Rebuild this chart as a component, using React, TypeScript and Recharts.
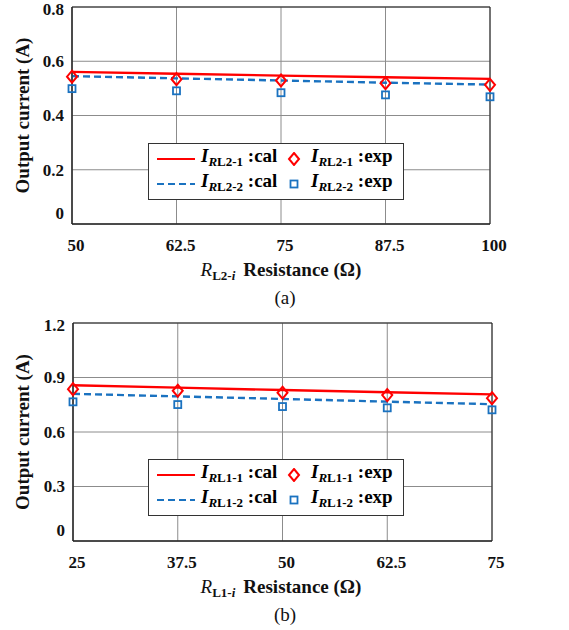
import React from "react";
import {
  CartesianGrid,
  ComposedChart,
  Legend,
  Line,
  ReferenceArea,
  XAxis,
  YAxis,
} from "recharts";

const resistanceA = [50, 62.5, 75, 87.5, 100];
const calA1 = [0.561, 0.554, 0.547, 0.541, 0.535];
const calA2 = [0.545, 0.537, 0.529, 0.521, 0.514];
const expA1 = [0.543, 0.534, 0.529, 0.519, 0.513];
const expA2 = [0.499, 0.491, 0.484, 0.476, 0.469];
const yTicksA = [0, 0.2, 0.4, 0.6, 0.8];

const resistanceB = [25, 37.5, 50, 62.5, 75];
const calB1 = [0.857, 0.844, 0.831, 0.819, 0.807];
const calB2 = [0.81, 0.796, 0.782, 0.767, 0.753];
const expB1 = [0.836, 0.827, 0.816, 0.803, 0.786];
const expB2 = [0.766, 0.751, 0.74, 0.733, 0.722];
const yTicksB = [0, 0.3, 0.6, 0.9, 1.2];

const RED = "#ff0000";
const BLUE = "#1a72c0";
const FONT = "Liberation Serif";

const Diamond = ({ cx, cy }: { cx: number; cy: number }) => (
  <path
    d={`M${cx},${cy - 6} L${cx + 5},${cy} L${cx},${cy + 6} L${cx - 5},${cy} Z`}
    fill="none"
    stroke={RED}
    strokeWidth={2}
  />
);

const Square = ({ cx, cy }: { cx: number; cy: number }) => (
  <rect x={cx - 3.5} y={cy - 3.5} width={7} height={7} fill="none" stroke={BLUE} strokeWidth={1.8} />
);

function Name({ sub }: { sub: string }) {
  return (
    <span style={{ fontWeight: "bold" }}>
      <i>I</i>
      <sub style={{ fontSize: 13, verticalAlign: -4 }}>
        <i>R</i>
        {sub}
      </sub>
    </span>
  );
}

function LegendBox({ s1, s2 }: { s1: string; s2: string }) {
  const row = (sub: string, line: React.ReactNode, marker: React.ReactNode) => (
    <div style={{ display: "flex", alignItems: "center", height: 25 }}>
      <svg width={40} height={10} style={{ marginLeft: 8 }}>{line}</svg>
      <span style={{ marginLeft: 4, width: 86 }}>
        <Name sub={sub} /> <b>:cal</b>
      </span>
      <svg width={14} height={14}>{marker}</svg>
      <span style={{ marginLeft: 10 }}>
        <Name sub={sub} /> <b>:exp</b>
      </span>
    </div>
  );
  return (
    <div
      style={{
        width: 254,
        height: 53,
        border: "1px solid #333",
        background: "#fff",
        fontFamily: FONT,
        fontSize: 19,
        lineHeight: "20px",
        paddingTop: 2,
        boxSizing: "content-box",
      }}
    >
      {row(s1, <line x1={0} y1={5} x2={38} y2={5} stroke={RED} strokeWidth={2.2} />, <Diamond cx={7} cy={7} />)}
      {row(
        s2,
        <line x1={0} y1={5} x2={38} y2={5} stroke={BLUE} strokeWidth={2.2} strokeDasharray="7 4" />,
        <Square cx={7} cy={7} />
      )}
    </div>
  );
}

type PanelProps = {
  xs: number[];
  cal1: number[];
  cal2: number[];
  exp1: number[];
  exp2: number[];
  yTicks: number[];
  s1: string;
  s2: string;
  yAxisWidth: number;
  rightMargin: number;
  xAxisHeight: number;
};

function Panel(p: PanelProps) {
  const data = p.xs.map((x, i) => ({
    x,
    cal1: p.cal1[i],
    cal2: p.cal2[i],
    exp1: p.exp1[i],
    exp2: p.exp2[i],
  }));
  const yMax = p.yTicks[p.yTicks.length - 1];
  const xMin = p.xs[0];
  const xMax = p.xs[p.xs.length - 1];

  const xTick = (t: any) => (
    <text
      x={t.x + 4}
      y={t.y + 21}
      dy="0.35em"
      textAnchor="middle"
      style={{ fontFamily: FONT, fontWeight: "bold", fontSize: 17 }}
      fill="#111"
    >
      {t.payload.value}
    </text>
  );
  const yTick = (t: any) => (
    <text
      x={t.x - 8}
      y={t.y + (t.payload.value === 0 ? -11 : 0)}
      dy="0.35em"
      textAnchor="end"
      style={{ fontFamily: FONT, fontWeight: "bold", fontSize: 17 }}
      fill="#111"
    >
      {t.payload.value}
    </text>
  );
  const yLabel = (l: any) => {
    const vb = l.viewBox;
    const cy = vb.y + vb.height / 2;
    return (
      <text
        x={22}
        y={cy}
        transform={`rotate(-90, 22, ${cy})`}
        textAnchor="middle"
        dominantBaseline="central"
        style={{ fontFamily: FONT, fontWeight: "bold", fontSize: 19 }}
        fill="#111"
      >
        Output current (A)
      </text>
    );
  };

  return (
    <ComposedChart
      width={569}
      height={305}
      data={data}
      margin={{ top: 7, right: p.rightMargin, bottom: 0, left: 0 }}
    >
      <CartesianGrid stroke="#8c8c8c" strokeWidth={1} />
      <XAxis
        dataKey="x"
        type="number"
        domain={[xMin, xMax]}
        ticks={p.xs}
        tick={xTick}
        tickLine={false}
        tickSize={0}
        tickMargin={0}
        axisLine={{ stroke: "#222" }}
        height={p.xAxisHeight}
      />
      <YAxis
        type="number"
        domain={[0, yMax]}
        ticks={p.yTicks}
        tick={yTick}
        tickLine={false}
        tickSize={0}
        tickMargin={0}
        axisLine={{ stroke: "#222" }}
        width={p.yAxisWidth}
        label={{ content: yLabel }}
      />
      <ReferenceArea x1={xMin} x2={xMax} y1={0} y2={yMax} fill="none" stroke="#222" strokeOpacity={1} />
      <Line dataKey="cal1" stroke={RED} strokeWidth={2.4} dot={false} activeDot={false} isAnimationActive={false} />
      <Line
        dataKey="cal2"
        stroke={BLUE}
        strokeWidth={2.4}
        strokeDasharray="7 4"
        dot={false}
        activeDot={false}
        isAnimationActive={false}
      />
      <Line
        dataKey="exp1"
        stroke="none"
        dot={(d: any) => <Diamond key={`d${d.index}`} cx={d.cx} cy={d.cy} />}
        activeDot={false}
        isAnimationActive={false}
      />
      <Line
        dataKey="exp2"
        stroke="none"
        dot={(d: any) => <Square key={`s${d.index}`} cx={d.cx} cy={d.cy} />}
        activeDot={false}
        isAnimationActive={false}
      />
      <Legend
        layout="horizontal"
        verticalAlign="middle"
        align="center"
        wrapperStyle={{ left: 148, top: 143, width: 256, height: 56 }}
        content={() => <LegendBox s1={p.s1} s2={p.s2} />}
      />
    </ComposedChart>
  );
}

function AxisTitle({ sub, top, caption }: { sub: string; top: number; caption: string }) {
  const base: React.CSSProperties = {
    position: "absolute",
    left: 0,
    textAlign: "center",
    fontFamily: FONT,
    fontSize: 19,
    lineHeight: "24px",
    color: "#111",
  };
  return (
    <>
      <div style={{ ...base, width: 562, top: top - 12 }}>
        <i>R</i>
        <sub style={{ fontSize: 13, fontWeight: "bold", verticalAlign: -4 }}>
          {sub}
          <i>i</i>
        </sub>
        <b style={{ marginLeft: 8 }}>Resistance (Ω)</b>
      </div>
      <div style={{ ...base, width: 570, top: top + 16 }}>{caption}</div>
    </>
  );
}

export default function App() {
  return (
    <div style={{ position: "absolute", left: 0, top: 0, width: 569, height: 630, background: "#fff" }}>
      <div style={{ position: "absolute", left: 0, top: 0 }}>
        <Panel
          xs={resistanceA}
          cal1={calA1}
          cal2={calA2}
          exp1={expA1}
          exp2={expA2}
          yTicks={yTicksA}
          s1="L2-1"
          s2="L2-2"
          yAxisWidth={72}
          rightMargin={79}
          xAxisHeight={81}
        />
      </div>
      <AxisTitle sub="L2-" top={270} caption="(a)" />
      <div style={{ position: "absolute", left: 0, top: 316 }}>
        <Panel
          xs={resistanceB}
          cal1={calB1}
          cal2={calB2}
          exp1={expB1}
          exp2={expB2}
          yTicks={yTicksB}
          s1="L1-1"
          s2="L1-2"
          yAxisWidth={73}
          rightMargin={77}
          xAxisHeight={80}
        />
      </div>
      <AxisTitle sub="L1-" top={587} caption="(b)" />
    </div>
  );
}
